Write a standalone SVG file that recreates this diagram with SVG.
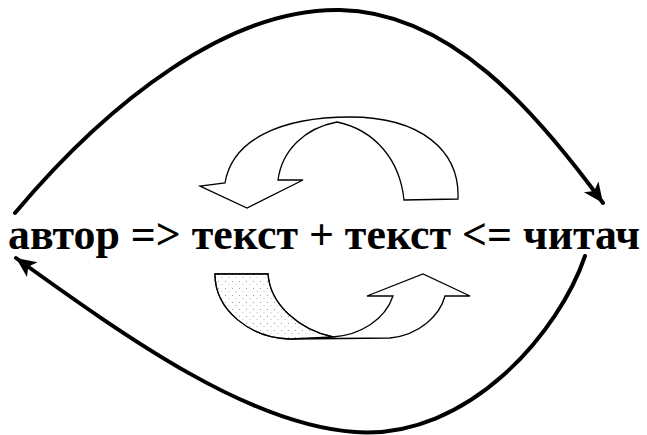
<svg xmlns="http://www.w3.org/2000/svg" width="647" height="435" viewBox="0 0 647 435">
<defs>
<style>
.conn{fill:none;stroke:#000;stroke-width:4;stroke-linecap:round}
.ribbon{fill:#fff;stroke:#000;stroke-width:1.3;stroke-linejoin:miter}
.label{font-family:"Liberation Serif","Times New Roman",serif;font-weight:bold;font-size:44px;fill:#000}
</style>
<marker id="ah" markerUnits="userSpaceOnUse" markerWidth="24" markerHeight="20" refX="20" refY="10" orient="auto">
<path d="M0,1 L20,10 L0,19 L5,10 Z" fill="#000"/>
</marker>
<pattern id="dots" patternUnits="userSpaceOnUse" width="7" height="7">
<rect width="7" height="7" fill="#fff"/>
<circle cx="1.5" cy="1.5" r="0.6" fill="#444"/>
<circle cx="5" cy="4.5" r="0.5" fill="#666"/>
</pattern>
</defs>
<rect width="647" height="435" fill="#fff"/>
<g id="connectors">
<path class="conn" d="M15,213 C110,100 230,8 340,10 C450,12 535,110 603,203" marker-end="url(#ah)"/>
<path class="conn" d="M585,256 C560,330 470,440 355,432 C250,425 130,340 16,258" marker-end="url(#ah)"/>
</g>
<g id="arrow-top">
<path class="ribbon" d="M458,199 C460,150 420,117 350,117 C280,117 232,140 225,183 L200,186 L247,208 L303,180 L278,180 C282,150 305,128 337,122 C375,130 400,160 404,200 Z"/>
</g>
<g id="arrow-bottom">
<path class="ribbon" d="M215,274 L268,274 C270,305 300,330 333,337 C360,335 385,320 393,296 L367,296 L423,274 L470,296 L445,296 C440,315 420,335 390,338 L290,339 C250,338 215,310 215,274 Z"/>
<path d="M215,274 L268,274 C270,305 300,330 333,337 L290,339 C250,338 215,310 215,274 Z" fill="url(#dots)" opacity="0.6"/>
<path d="M215,274 L268,274 C270,305 300,330 333,337 L290,339 C250,338 215,310 215,274 Z" fill="none" stroke="#000" stroke-width="1.3"/>
</g>
<g id="label">
<text class="label" x="8" y="249" textLength="632" lengthAdjust="spacingAndGlyphs">автор =&gt; текст + текст &lt;= читач</text>
</g>
</svg>
